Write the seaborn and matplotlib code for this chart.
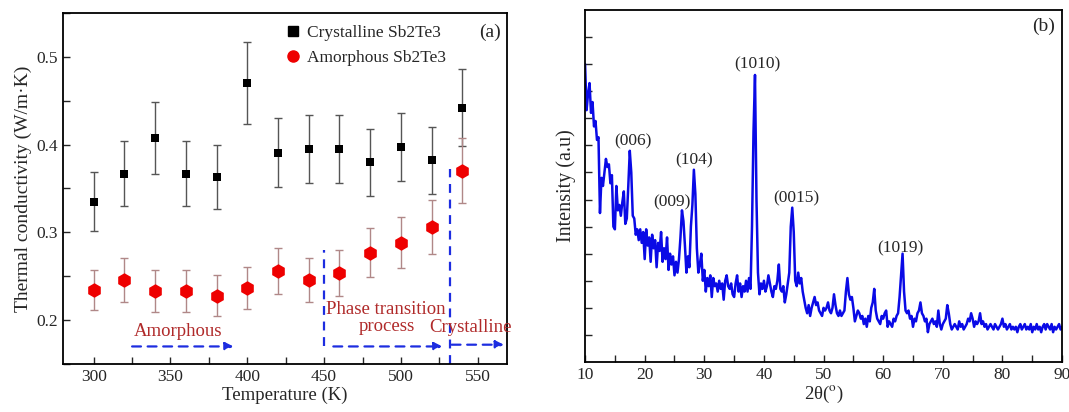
import numpy as np
import pandas as pd
import seaborn as sns
import matplotlib.pyplot as plt
from matplotlib.lines import Line2D
from matplotlib.ticker import MultipleLocator, NullFormatter

# (a) thermal conductivity
temperature = [300, 320, 340, 360, 380, 400, 420, 440, 460, 480, 500, 520, 540]
k_cryst = [0.335, 0.367, 0.407, 0.367, 0.363, 0.470, 0.391, 0.395, 0.395, 0.380, 0.397, 0.382, 0.442]
k_cryst_err = [0.034, 0.037, 0.041, 0.037, 0.036, 0.047, 0.039, 0.039, 0.039, 0.038, 0.039, 0.038, 0.044]
k_amor = [0.234, 0.246, 0.233, 0.233, 0.228, 0.237, 0.256, 0.246, 0.254, 0.277, 0.288, 0.306, 0.370]
k_amor_err = [0.023, 0.025, 0.024, 0.024, 0.023, 0.024, 0.026, 0.025, 0.026, 0.028, 0.029, 0.031, 0.037]

# (b) XRD pattern, sampled every 0.25 deg from 10 to 90
two_theta = np.round(np.arange(10, 90.001, 0.25), 2)
intensity = [
    11.0, 9.3, 9.9, 10.3, 9.2, 9.6, 8.7, 8.9,   # 10
    8.2, 8.3, 5.5, 6.8, 6.5, 7.0, 7.5, 7.2,     # 12
    7.3, 6.6, 6.9, 5.0, 4.9, 6.5, 5.6, 5.8,     # 14
    5.4, 5.9, 6.3, 5.1, 5.3, 6.5, 7.8, 7.0,     # 16
    5.4, 5.3, 4.7, 4.9, 4.5, 4.9, 4.4, 4.8,     # 18
    3.8, 4.9, 4.3, 4.6, 3.7, 4.7, 4.2, 4.5,     # 20
    3.5, 4.4, 4.1, 4.8, 3.7, 4.2, 3.8, 4.6,     # 22
    3.4, 4.0, 3.6, 3.9, 3.2, 3.7, 3.3, 3.8,     # 24
    4.6, 5.6, 5.2, 4.3, 3.3, 3.9, 3.5, 5.0,     # 26
    5.8, 7.1, 6.2, 4.2, 3.3, 3.6, 4.0, 3.0,     # 28
    3.4, 2.6, 3.1, 2.8, 3.2, 2.4, 3.1, 2.8,     # 30
    2.9, 2.6, 3.0, 2.7, 2.9, 2.3, 3.0, 3.2,     # 32
    2.8, 2.7, 2.9, 2.5, 2.4, 2.9, 3.2, 2.6,     # 34
    2.9, 2.4, 2.8, 2.6, 3.0, 2.6, 3.1, 2.7,     # 36
    5.0, 8.5, 10.6, 6.0, 3.3, 2.5, 2.9, 2.7,    # 38
    3.0, 2.6, 2.8, 3.2, 2.9, 2.6, 2.4, 2.8,     # 40
    2.7, 3.0, 3.6, 2.7, 2.6, 2.8, 2.2, 2.5,     # 42
    2.9, 3.3, 5.0, 5.7, 4.8, 3.0, 2.8, 3.3,     # 44
    2.9, 3.1, 2.6, 2.3, 2.0, 1.8, 2.1, 1.7,     # 46
    2.0, 2.2, 2.4, 2.1, 2.2, 1.9, 1.8, 1.7,     # 48
    2.0, 1.9, 2.0, 2.2, 1.9, 1.8, 2.0, 2.5,     # 50
    2.1, 1.8, 1.7, 1.9, 1.7, 1.8, 1.9, 2.6,     # 52
    3.1, 2.5, 2.3, 2.4, 2.0, 1.5, 1.7, 1.9,     # 54
    1.8, 1.6, 1.7, 1.4, 1.6, 1.3, 1.7, 1.5,     # 56
    2.0, 2.2, 2.7, 1.9, 1.6, 1.5, 1.4, 1.7,     # 58
    1.6, 1.8, 1.9, 1.3, 1.5, 1.4, 1.3, 1.6,     # 60
    1.5, 1.7, 1.8, 2.4, 3.2, 4.0, 2.6, 1.9,     # 62
    1.8, 1.9, 1.6, 1.7, 1.3, 1.6, 1.5, 1.8,     # 64
    1.9, 2.2, 1.8, 1.7, 1.5, 1.6, 1.1, 1.4,     # 66
    1.5, 1.6, 1.4, 1.5, 1.3, 1.9, 1.4, 1.2,     # 68
    1.4, 1.5, 1.6, 2.1, 1.8, 1.4, 1.2, 1.3,     # 70
    1.4, 1.3, 1.2, 1.5, 1.3, 1.4, 1.2, 1.3,     # 72
    1.4, 1.6, 1.5, 1.8, 1.6, 1.3, 1.5, 1.4,     # 74
    1.5, 1.8, 1.4, 1.5, 1.3, 1.4, 1.2, 1.3,     # 76
    1.4, 1.3, 1.2, 1.4, 1.3, 1.2, 1.3, 1.4,     # 78
    1.6, 1.3, 1.4, 1.2, 1.3, 1.4, 1.2, 1.3,     # 80
    1.2, 1.3, 1.1, 1.3, 1.4, 1.2, 1.3, 1.4,     # 82
    1.2, 1.3, 1.2, 1.4, 1.1, 1.3, 1.2, 1.4,     # 84
    1.2, 1.3, 1.1, 1.3, 1.4, 1.2, 1.4, 1.3,     # 86
    1.2, 1.4, 1.1, 1.3, 1.2, 1.3, 1.4, 1.2,     # 88
    1.3,                                        # 90
]
peak_labels = ["(006)", "(009)", "(104)", "(1010)", "(0015)", "(1019)"]
peak_pos = [18.0, 24.6, 28.2, 38.9, 45.4, 62.8]
peak_lab_y = [8.15, 5.9, 7.45, 11.0, 6.05, 4.2]

sns.set_theme(style="ticks")
plt.rcParams["font.family"] = ["Liberation Serif", "DejaVu Serif"]
plt.rcParams["mathtext.fontset"] = "stix"
plt.rcParams["xtick.direction"] = "in"
plt.rcParams["ytick.direction"] = "in"

BLUE = "#1d2de0"
TXT_RED = "#b02a2a"

fig = plt.figure(figsize=(10.69, 4.12), dpi=100)
ax1 = fig.add_axes([0.0589, 0.1165, 0.4153, 0.852])
ax2 = fig.add_axes([0.5473, 0.1214, 0.4462, 0.8544])

df = pd.DataFrame({"T": temperature, "cryst": k_cryst, "cryst_err": k_cryst_err,
                   "amor": k_amor, "amor_err": k_amor_err})

# ---- panel (a)
ax1.errorbar(df["T"], df["cryst"], yerr=df["cryst_err"], fmt="none",
             ecolor="#555555", elinewidth=1.0, capsize=3, capthick=1.0)
ax1.errorbar(df["T"], df["amor"], yerr=df["amor_err"], fmt="none",
             ecolor="#b08888", elinewidth=1.0, capsize=3, capthick=1.0)
sns.scatterplot(data=df, x="T", y="cryst", marker="s", s=36, color="black",
                edgecolor="black", linewidth=0, ax=ax1, zorder=3)
sns.scatterplot(data=df, x="T", y="amor", marker="h", s=110, color="#ee0000",
                edgecolor="#ee0000", linewidth=0, ax=ax1, zorder=3)

ax1.set_xlim(280, 569)
ax1.set_ylim(0.15, 0.55)
ax1.xaxis.set_major_locator(MultipleLocator(50))
ax1.xaxis.set_minor_locator(MultipleLocator(25))
ax1.yaxis.set_major_locator(MultipleLocator(0.1))
ax1.yaxis.set_minor_locator(MultipleLocator(0.05))
ax1.set_yticks([0.2, 0.3, 0.4, 0.5])
ax1.set_yticklabels(["0.2", "0.3", "0.4", "0.5"])
ax1.tick_params(which="both", labelsize=12.5, length=5, width=1)
ax1.set_xlabel("Temperature (K)", fontsize=13.5, labelpad=1)
ax1.set_ylabel("Thermal conductivity (W/m·K)", fontsize=14, labelpad=3)

handles = [Line2D([], [], marker="s", ls="none", color="black", markersize=7),
           Line2D([], [], marker="o", ls="none", color="#ee0000", markersize=8)]
ax1.legend(handles, ["Crystalline Sb2Te3", "Amorphous Sb2Te3"], loc="upper left",
           bbox_to_anchor=(0.46, 1.01), frameon=False, fontsize=12.5,
           handletextpad=0.2, labelspacing=0.5, handlelength=1.2)
ax1.text(558, 0.528, "(a)", fontsize=14, ha="center", va="center")

# phase regions
ax1.plot([450, 450], [0.17, 0.28], ls=(0, (4, 3)), color=BLUE, lw=1.6)
ax1.plot([532, 532], [0.15, 0.372], ls=(0, (4, 3)), color=BLUE, lw=1.6)
for x0, x1, yy in [(325, 391, 0.170), (456, 527, 0.170), (533, 567, 0.172)]:
    ax1.annotate("", xy=(x1, yy), xytext=(x0, yy),
                 arrowprops=dict(arrowstyle="-|>", ls=(0, (4, 3)), color=BLUE,
                                 lw=1.6, mutation_scale=12, shrinkA=0, shrinkB=0))
ax1.text(355, 0.1875, "Amorphous", color=TXT_RED, fontsize=13.5, ha="center", va="center")
ax1.text(490, 0.212, "Phase transition", color=TXT_RED, fontsize=13.5,
         ha="center", va="center")
ax1.text(491, 0.193, "process", color=TXT_RED, fontsize=13.5,
         ha="center", va="center")
ax1.text(545, 0.192, "Crystalline", color=TXT_RED, fontsize=13.5, ha="center", va="center")

# ---- panel (b)
sns.lineplot(x=two_theta, y=intensity, ax=ax2, color="#0a0ae6", lw=1.8)
ax2.set_xlim(10, 90)
ax2.set_ylim(0, 13)
ax2.xaxis.set_major_locator(MultipleLocator(10))
ax2.xaxis.set_minor_locator(MultipleLocator(5))
ax2.set_yticks(range(1, 13))
ax2.yaxis.set_major_formatter(NullFormatter())
ax2.tick_params(which="both", labelsize=12.5, length=5, width=1)
ax2.set_xlabel(r"2θ($^{\rm o}$)", fontsize=13.5, labelpad=1)
ax2.set_ylabel("Intensity (a.u)", fontsize=14.5, labelpad=3)
for lab, xp, yp in zip(peak_labels, peak_pos, peak_lab_y):
    ax2.text(xp, yp, lab, fontsize=12.5, ha="center", va="center")
ax2.text(86.9, 12.4, "(b)", fontsize=14, ha="center", va="center")

for ax in (ax1, ax2):
    for sp in ax.spines.values():
        sp.set_linewidth(1.3)
        sp.set_color("black")

fig.savefig("out.png", dpi=100)
